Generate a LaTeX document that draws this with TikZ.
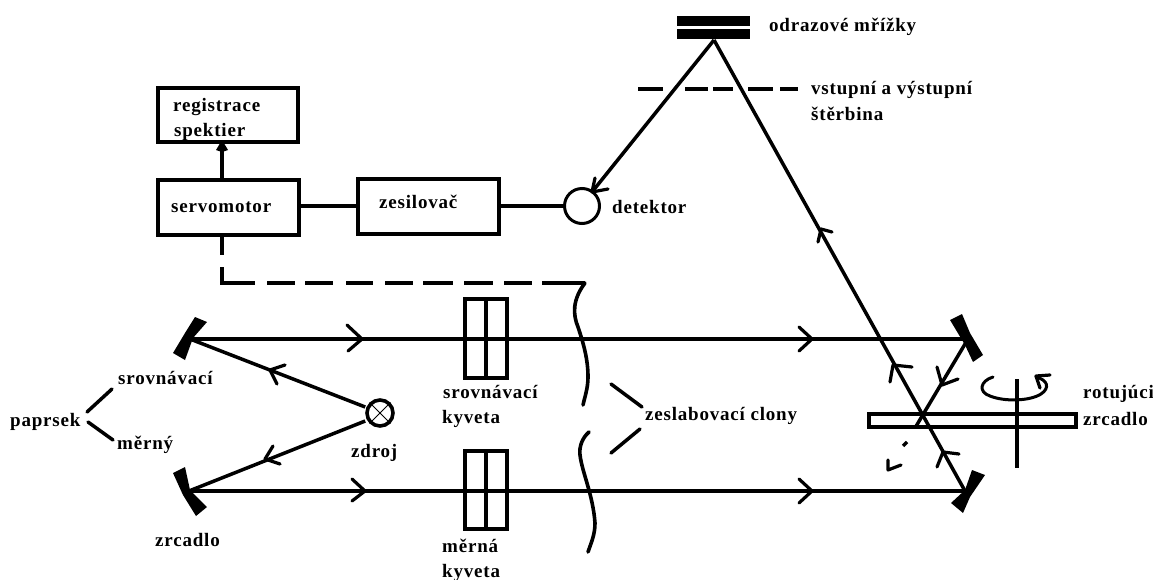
\documentclass[tikz,border=0pt]{standalone}
\usepackage{fontspec}
\setmainfont[LetterSpace=4.2]{Liberation Serif}
\newcommand{\barbs}[3]{\draw[barb] (#2) -- (#1) -- (#3);}
\tikzset{
  lbl/.style={anchor=base west,inner sep=0pt,font=\fontsize{19}{19}\selectfont\bfseries},
  beam/.style={line width=3.5pt},
  barb/.style={line width=3.2pt,line cap=round,line join=round},
  boxn/.style={draw,line width=3.5pt,inner sep=0pt,anchor=north west},
  cuv/.style={line width=3.5pt},
  blk/.style={fill=black,draw=none},
  wavy/.style={line width=3.6pt,line cap=round},
  dashline/.style={line width=3.5pt},
  thinl/.style={line width=.8pt}
}
\begin{document}
\begin{tikzpicture}[x=1pt,y=-1pt]
\useasboundingbox[fill=white] (0,0) rectangle (1153,579);
% named points
\coordinate (apex) at (714,40);
\coordinate (detTip) at (592,192);
\coordinate (mUL) at (190,339);
\coordinate (mLL) at (189,491);
\coordinate (mUR) at (968,339);
\coordinate (mLR) at (965,491);
\coordinate (rotHit) at (915,428);
% boxes
\node[boxn,minimum width=140pt,minimum height=54pt] (reg) at (156,86) {};
\node[boxn,minimum width=141pt,minimum height=55pt] (servo) at (156,178) {};
\node[boxn,minimum width=141pt,minimum height=55pt] (zes) at (356,177) {};
\node[draw,circle,line width=3pt,minimum size=35pt,inner sep=0pt] (det) at (582,206) {};
\node[draw,circle,line width=3.6pt,minimum size=26pt,inner sep=0pt] (src) at (380,413) {};
\draw[thinl] (src.north west) -- (src.south east) (src.north east) -- (src.south west);
% connectors
\draw[beam] (servo.east |- 0,206) -- (zes.west |- 0,206);
\draw[beam] (zes.east |- 0,206) -- (det.west);
\draw[beam] (222,178) -- (222,140);
\fill (222,140) -- (228,150) -- (222,152) -- (216,150) -- cycle;
% grating
\fill[blk] (677,16) rectangle (750,26);
\fill[blk] (677,29) rectangle (750,39);
\draw[beam] (apex) -- (detTip);
\barbs{592,192}{595,178}{608,189}
\draw[beam] (apex) -- (mLR);
\barbs{821,229}{832,232}{818,242}
% slit
\draw[dashline] (638,89) -- (663,89) (685,89) -- (708,89) (713,89) -- (733,89) (748,89) -- (773,89) (780,89) -- (798,89);
% servo dashed link
\draw[dashline] (222,233) -- (222,255) (222,267) -- (222,283) -- (255,283)
  (267,283) -- (295,283) (305,283) -- (333,283) (346,283) -- (373,283) (385,283) -- (413,283)
  (423,283) -- (453,283) (464,283) -- (493,283) (504,283) -- (532,283) (542,283) -- (585,283);
% attenuator curves
\draw[wavy] (585,283) .. controls (572,300) and (573,315) .. (578,327) .. controls (584,345) and (588,360) .. (588,377) .. controls (588,388) and (585,396) .. (583,405);
\draw[wavy] (589,432) .. controls (582,438) and (579,447) .. (580,455) .. controls (582,472) and (593,495) .. (595,523) .. controls (595,535) and (591,543) .. (588,552);
% beams
\draw[beam] (mUL) -- (mUR);
\draw[beam] (mLL) -- (mLR);
\draw[beam] (src.west |- 0,407) -- (mUL);
\draw[beam] (src.west |- 0,421) -- (mLL);
\barbs{270,370}{285,365}{277,384}
\barbs{265,459}{273,446}{280,464}
\barbs{362,339}{347,325}{348,351}
\barbs{365,491}{352,479}{352,501}
\barbs{812,339}{799,327}{799,351}
\barbs{812,491}{799,479}{799,503}
% mirrors
\fill[blk] (195,317) -- (207,322) -- (193,338) -- (185,360) -- (173,353) -- (185,333) -- cycle;
\fill[blk] (173,473) -- (185,467) -- (190,490) -- (207,507) -- (196,516) -- (183,495) -- cycle;
\fill[blk] (950,320) -- (962,314) -- (970,333) -- (983,355) -- (973,362) -- (965,345) -- cycle;
\fill[blk] (972,470) -- (985,475) -- (970,497) -- (963,513) -- (951,503) -- (965,490) -- cycle;
% cuvettes
\draw[cuv] (465,299) rectangle (507,378) (486,299) -- (486,378);
\draw[cuv] (465,451) rectangle (507,529) (486,451) -- (486,529);
% rotating mirror
\node[boxn,minimum width=207pt,minimum height=13pt] (rot) at (867,412) {};
\draw[beam] (1017,379) -- (1017,468);
\draw[beam] (mUR) -- (rotHit);
\draw[dashline] (907,442) -- (903,446);
\barbs{942,385}{937,367}{958,379}
\barbs{893,365}{912,367}{890,382}
\barbs{943,452}{959,454}{937,467}
\barbs{888,470}{888,460}{901,465}
\draw[line width=3pt,line cap=round] (993,377) .. controls (980,381) and (978,392) .. (990,396) .. controls (1005,402) and (1030,401) .. (1041,394) .. controls (1050,388) and (1048,380) .. (1036,377);
\barbs{1036,376}{1050,375}{1040,388}
% label leaders
\draw[beam,line cap=round] (87,412) -- (112,389);
\draw[beam,line cap=round] (88,422) -- (113,440);
\draw[beam,line cap=round] (611,384) -- (642,407);
\draw[beam,line cap=round] (640,429) -- (611,453);
% labels
\node[lbl] (t1) at (769,31) {odrazové mřížky};
\node[lbl] (t2) at (811,94) {vstupní a výstupní};
\node[lbl] (t3) at (811,120) {štěrbina};
\node[lbl] (t4) at (173,111) {registrace};
\node[lbl] (t5) at (174,136) {spektier};
\node[lbl] (t6) at (171,212) {servomotor};
\node[lbl] (t7) at (379,208) {zesilovač};
\node[lbl] (t8) at (612,213) {detektor};
\node[lbl] (t9) at (1083,398) {rotujúci};
\node[lbl] (t10) at (1083,425) {zrcadlo};
\node[lbl] (t11) at (118,384) {srovnávací};
\node[lbl] (t12) at (117,449) {měrný};
\node[lbl] (t13) at (10,426) {paprsek};
\node[lbl] (t14) at (351,457) {zdroj};
\node[lbl] (t15) at (155,546) {zrcadlo};
\node[lbl] (t16) at (443,398) {srovnávací};
\node[lbl] (t17) at (442,423) {kyveta};
\node[lbl] (t18) at (442,552) {měrná};
\node[lbl] (t19) at (442,577) {kyveta};
\node[lbl] (t20) at (645,420) {zeslabovací clony};
\end{tikzpicture}
\end{document}
